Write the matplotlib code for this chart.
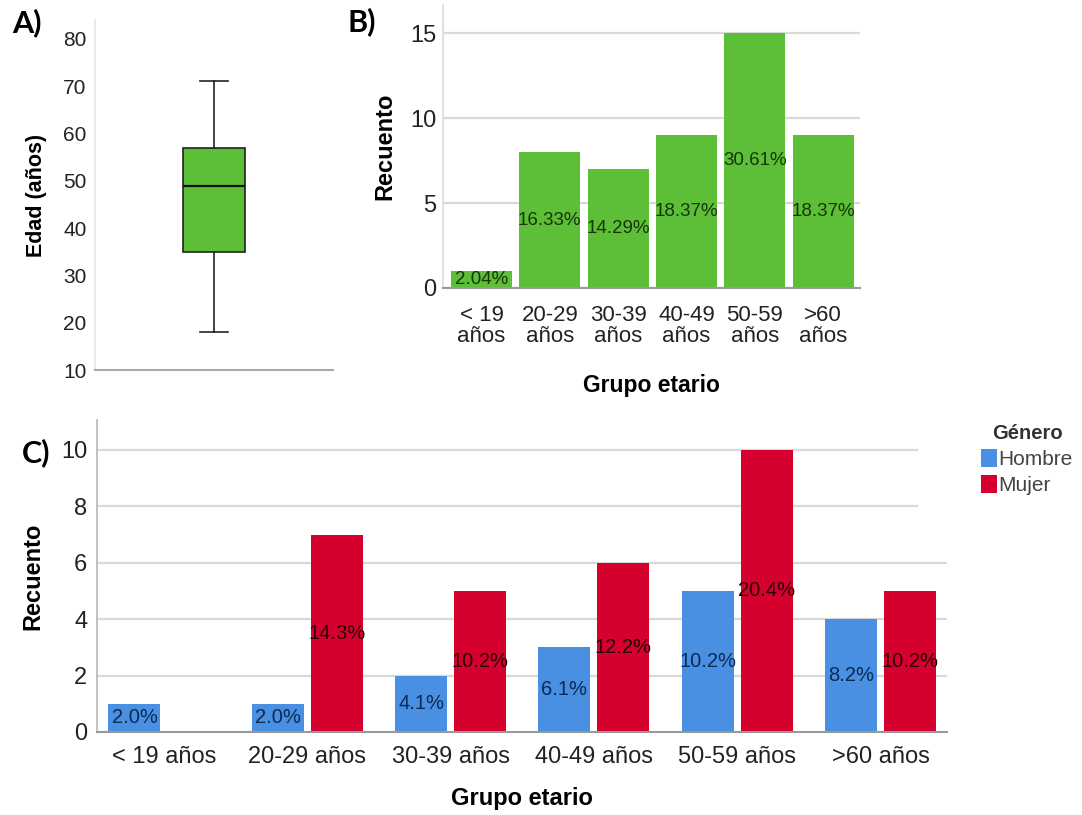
import matplotlib
matplotlib.use('Agg')
import matplotlib.pyplot as plt
from matplotlib.patches import Patch
import numpy as np

plt.rcParams['font.family'] = ['Liberation Sans', 'DejaVu Sans']
NARROW = ['Liberation Sans Narrow', 'Liberation Sans', 'DejaVu Sans']

# --- data ---
# A) age boxplot (years)
edad_whislo = 18
edad_q1 = 35
edad_med = 49
edad_q3 = 57
edad_whishi = 71

# B) counts per age group
grupos_b = ['< 19\naños', '20-29\naños', '30-39\naños', '40-49\naños', '50-59\naños', '>60\naños']
recuento = [1, 8, 7, 9, 15, 9]

# C) counts per age group and gender
grupos_c = ['< 19 años', '20-29 años', '30-39 años', '40-49 años', '50-59 años', '>60 años']
hombre = [1, 1, 2, 3, 5, 4]
mujer = [0, 7, 5, 6, 10, 5]

GREEN = '#5DBE37'
BLUE = '#4A90E2'
RED = '#D6002F'
W, H = 1082, 815

fig = plt.figure(figsize=(W / 100, H / 100), dpi=100)


def px_axes(x0, y0, x1, y1):
    # axes from pixel box (left, top, right, bottom)
    return fig.add_axes([x0 / W, 1 - y1 / H, (x1 - x0) / W, (y1 - y0) / H])


def style_axes(ax, left_col='#DDDDDD', bottom_col='#999999'):
    for s in ['top', 'right']:
        ax.spines[s].set_visible(False)
    ax.spines['left'].set_color(left_col)
    ax.spines['left'].set_linewidth(1.3)
    ax.spines['bottom'].set_color(bottom_col)
    ax.spines['bottom'].set_linewidth(1.5)
    ax.tick_params(length=0)


# ---------------- A) boxplot ----------------
ax_a = px_axes(95, 20, 333, 370)
stats = [dict(whislo=edad_whislo, q1=edad_q1, med=edad_med, q3=edad_q3, whishi=edad_whishi, fliers=[])]
ax_a.bxp(stats, positions=[0.5], widths=0.26, capwidths=0.12, patch_artist=True,
         boxprops=dict(facecolor=GREEN, edgecolor='#222222', linewidth=1.2),
         medianprops=dict(color='#111111', linewidth=1.6),
         whiskerprops=dict(color='#222222', linewidth=1.2),
         capprops=dict(color='#222222', linewidth=1.2))
ax_a.set_xlim(0, 1)
ax_a.set_ylim(10, 84)
ax_a.set_yticks(range(10, 81, 10))
ax_a.set_xticks([])
style_axes(ax_a, left_col='#E6E6E6', bottom_col='#AAAAAA')
ax_a.tick_params(axis='y', labelsize=15, pad=6, labelcolor='#222222')
ax_a.set_ylabel('Edad (años)', fontsize=15.5, fontweight='bold', labelpad=12)

# ---------------- B) bar chart ----------------
ax_b = px_axes(443, 5, 860, 288)
xb = np.arange(len(grupos_b))
ax_b.set_axisbelow(True)
ax_b.yaxis.grid(True, color='#D9D9D9', linewidth=1.6)
ax_b.bar(xb, recuento, width=0.89, color=GREEN)
total_b = sum(recuento)
for x, v in zip(xb, recuento):
    ax_b.text(x, v / 2, '{:.2f}%'.format(v / total_b * 100), ha='center', va='center',
              fontsize=13.5, family=NARROW, color='#16350A')
ax_b.set_xlim(-0.564, 5.54)
ax_b.set_ylim(0, 16.65)
ax_b.set_yticks([0, 5, 10, 15])
ax_b.set_xticks(xb)
ax_b.set_xticklabels(grupos_b, family=NARROW, fontsize=16, linespacing=1.0)
for lab in ax_b.get_yticklabels():
    lab.set_family(NARROW)
style_axes(ax_b)
ax_b.tick_params(axis='y', labelsize=17, pad=5, labelcolor='#222222')
ax_b.tick_params(axis='x', pad=12, labelcolor='#222222')
ax_b.set_ylabel('Recuento', fontsize=17, fontweight='bold', labelpad=10)
ax_b.set_xlabel('Grupo etario', fontsize=16.5, fontweight='bold', family=NARROW, labelpad=20)

# ---------------- C) grouped bars ----------------
ax_c = px_axes(97, 420, 947, 732)
xc = np.arange(len(grupos_c))
ax_c.set_axisbelow(True)
for y in [2, 4, 6]:
    ax_c.axhline(y, color='#D9D9D9', linewidth=1.6, zorder=0)
for y in [8, 10]:
    ax_c.axhline(y, xmax=0.965, color='#D9D9D9', linewidth=1.6, zorder=0)
off, bw = 0.206, 0.363
ax_c.bar(xc - off, hombre, width=bw, color=BLUE)
ax_c.bar(xc + off, mujer, width=bw, color=RED)
total_c = sum(hombre) + sum(mujer)
for x, v in zip(xc, hombre):
    if v > 0:
        ax_c.text(x - off, v / 2, '{:.1f}%'.format(v / total_c * 100), ha='center', va='center',
                  fontsize=14.5, color='#0B2A55')
for x, v in zip(xc, mujer):
    if v > 0:
        ax_c.text(x + off, v / 2, '{:.1f}%'.format(v / total_c * 100), ha='center', va='center',
                  fontsize=14.5, color='#2A0008')
ax_c.set_xlim(-0.4675, 5.464)
ax_c.set_ylim(0, 11.06)
ax_c.set_yticks(range(0, 11, 2))
ax_c.set_xticks(xc)
ax_c.set_xticklabels(grupos_c)
style_axes(ax_c, left_col='#BBBBBB')
ax_c.tick_params(axis='y', labelsize=17, pad=7, labelcolor='#222222')
ax_c.tick_params(axis='x', labelsize=17, pad=10, labelcolor='#222222')
ax_c.set_ylabel('Recuento', fontsize=17, fontweight='bold', labelpad=12)
ax_c.set_xlabel('Grupo etario', fontsize=17, fontweight='bold', labelpad=14)

handles = [Patch(facecolor=BLUE, label='Hombre'), Patch(facecolor=RED, label='Mujer')]
leg = ax_c.legend(handles=handles, title='Género', loc='upper left',
                  bbox_to_anchor=(981 / W, 1 - 424 / H), bbox_transform=fig.transFigure,
                  frameon=False, fontsize=15, title_fontsize=14.5, handlelength=0.75,
                  handleheight=0.9, handletextpad=0.1, borderpad=0, borderaxespad=0,
                  labelspacing=0.3)
leg.get_title().set_fontweight('bold')
leg.get_title().set_color('#333333')
for t in leg.get_texts():
    t.set_color('#444444')

# panel letters
for lab, px, py in [('A)', 12, 23), ('B)', 348, 22), ('C)', 22, 453)]:
    fig.text(px / W, 1 - py / H, lab, fontsize=22, fontweight='bold',
             family=['Lato', 'DejaVu Sans'], ha='left', va='center')

fig.savefig('out.png', dpi=100)
